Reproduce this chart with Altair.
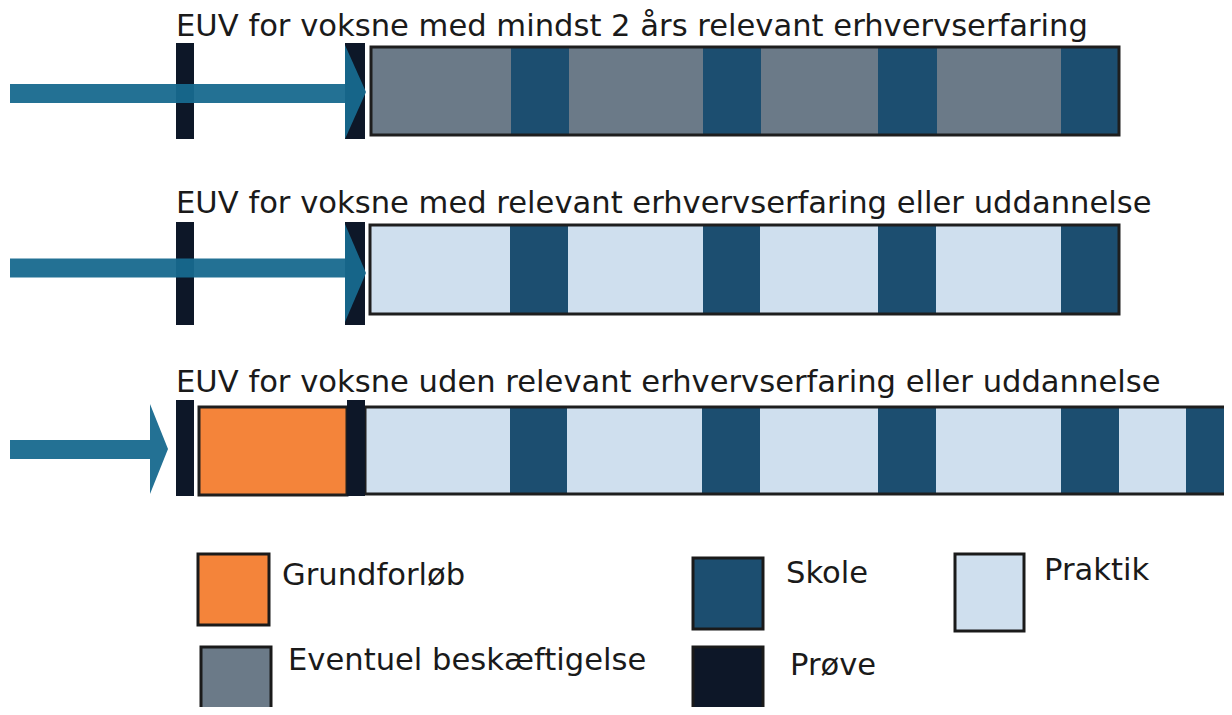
import altair as alt
import pandas as pd

# ---------------- data ----------------
titles = [
    "EUV for voksne med mindst 2 års relevant erhvervserfaring",
    "EUV for voksne med relevant erhvervserfaring eller uddannelse",
    "EUV for voksne uden relevant erhvervserfaring eller uddannelse",
]
phases = ["Grundforløb", "Skole", "Praktik", "Eventuel beskæftigelse", "Prøve"]
phase_colors = ["#f4843a", "#1c4e70", "#cfdfee", "#6b7a88", "#0d1728"]

# main course sequence per row (phase, length)
row_seq_phase = [
    ["Eventuel beskæftigelse", "Skole"] * 4,
    ["Praktik", "Skole"] * 4,
    ["Praktik", "Skole"] * 5,
]
row_seq_len = [
    [140, 58, 134, 58, 117, 59, 124, 58],
    [140, 58, 135, 57, 118, 58, 125, 58],
    [145, 57, 135, 58, 118, 58, 125, 58, 67, 60],
]
row_seq_start = [371, 370, 365]

# prøve markers per row: (start, width)
prove_start = [[176, 345], [176, 345], [176, 347]]
prove_width = [[18, 20], [18, 20], [18, 18]]
# grundforløb (only row 3)
grund_start = [None, None, 199]
grund_len = [0, 0, 148]

# arrows: shaft start, head base, head tip
arrow_start = [10, 10, 10]
arrow_base = [345, 345, 150]
arrow_tip = [366, 366, 168]

legend_labels = ["Grundforløb", "Eventuel beskæftigelse", "Skole", "Prøve", "Praktik"]

# ---------------- layout (page pixels) ----------------
X0, X1 = 8, 1224
Y0, Y1 = 8, 707
bar_top = [47, 225, 407]
bar_bot = [135, 314, 494]
prove_top = [43, 222, 400]
prove_bot = [139, 325, 496]
shaft_c = [93.5, 268, 449.5]
shaft_h = 19
head_top = [45, 224, 404]
head_bot = [139, 322, 494]
title_base = [36, 213, 392]
title_x = 176

leg_x1 = [198, 201, 693, 693, 955]
leg_x2 = [269, 271, 763, 763, 1024]
leg_y1 = [554, 647, 558, 647, 554]
leg_y2 = [625, 716, 629, 716, 631]
leg_tx = [282, 288, 786, 790, 1044]
leg_ty = [585, 670, 583, 675, 580]

FONT = "DejaVu Sans"
FS = 30.6
TXT = "#1a1a1a"
ARROW = "#17698e"

# ---------------- tables ----------------
seg_rows = []
outline_rows = []
for r in range(3):
    x = row_seq_start[r]
    for p, L in zip(row_seq_phase[r], row_seq_len[r]):
        seg_rows.append(dict(row=r, phase=p, x=x, x2=x + L, y=bar_top[r], y2=bar_bot[r]))
        x += L
    outline_rows.append(dict(row=r, x=row_seq_start[r], x2=x, y=bar_top[r], y2=bar_bot[r]))
    if grund_start[r] is not None:
        g = dict(row=r, phase="Grundforløb", x=grund_start[r], x2=grund_start[r] + grund_len[r],
                 y=bar_top[r], y2=bar_bot[r] + 1)
        seg_rows.append(g)
        outline_rows.append(dict(row=r, x=g["x"], x2=g["x2"], y=g["y"], y2=g["y2"]))
segs = pd.DataFrame(seg_rows)
outlines = pd.DataFrame(outline_rows)

prove_rows = []
for r in range(3):
    for s, w in zip(prove_start[r], prove_width[r]):
        prove_rows.append(dict(row=r, phase="Prøve", x=s, x2=s + w, y=prove_top[r], y2=prove_bot[r]))
proves = pd.DataFrame(prove_rows)

shafts = pd.DataFrame([
    dict(row=r, x=arrow_start[r], x2=arrow_base[r],
         y=shaft_c[r] - shaft_h / 2, y2=shaft_c[r] + shaft_h / 2)
    for r in range(3)
])

head_rows = []
for r in range(3):
    h = head_bot[r] - head_top[r]
    L = arrow_tip[r] - arrow_base[r]
    a = L / h
    head_rows.append(dict(
        row=r, x=(arrow_base[r] + arrow_tip[r]) / 2, y=(head_top[r] + head_bot[r]) / 2,
        size=h * h, path=f"M{-a:.4f},-1L{a:.4f},0L{-a:.4f},1Z"))
heads = pd.DataFrame(head_rows)

title_df = pd.DataFrame(dict(text=titles, x=[title_x] * 3, y=title_base))

leg_box = pd.DataFrame(dict(phase=legend_labels, x=leg_x1, x2=leg_x2, y=leg_y1, y2=leg_y2))
leg_txt = pd.DataFrame(dict(text=legend_labels, x=leg_tx, y=leg_ty))

# ---------------- encodings ----------------
xs = alt.Scale(domain=[X0, X1], nice=False, zero=False)
ys = alt.Scale(domain=[Y0, Y1], nice=False, zero=False, reverse=True)
cs = alt.Scale(domain=phases, range=phase_colors)


def X(f="x"):
    return alt.X(f"{f}:Q", scale=xs, axis=None)


def Y(f="y"):
    return alt.Y(f"{f}:Q", scale=ys, axis=None)


color = alt.Color("phase:N", scale=cs, legend=None)

seg_layer = alt.Chart(segs).mark_rect(clip=True).encode(
    x=X(), x2="x2", y=Y(), y2="y2", color=color)

outline_layer = alt.Chart(outlines).mark_rect(
    clip=True, fill="white", fillOpacity=0, stroke="#1e1e1e", strokeWidth=3
).encode(x=X(), x2="x2", y=Y(), y2="y2")

prove_layer = alt.Chart(proves).mark_rect(clip=True).encode(
    x=X(), x2="x2", y=Y(), y2="y2", color=color)

shaft_layer = alt.Chart(shafts).mark_rect(color=ARROW, opacity=0.95).encode(
    x=X(), x2="x2", y=Y(), y2="y2")

head_layer = alt.Chart(heads).mark_point(
    filled=True, color=ARROW, opacity=0.95, strokeWidth=0
).encode(
    x=X(), y=Y(),
    size=alt.Size("size:Q", scale=None, legend=None),
    shape=alt.Shape("path:N", scale=None, legend=None),
)

title_layer = alt.Chart(title_df).mark_text(
    align="left", baseline="alphabetic", font=FONT, fontSize=FS, color=TXT
).encode(x=X(), y=Y(), text="text:N")

leg_box_layer = alt.Chart(leg_box).mark_rect(
    clip=True, stroke="#1a1a1a", strokeWidth=3
).encode(x=X(), x2="x2", y=Y(), y2="y2", color=color)

leg_txt_layer = alt.Chart(leg_txt).mark_text(
    align="left", baseline="alphabetic", font=FONT, fontSize=FS, color=TXT
).encode(x=X(), y=Y(), text="text:N")

chart = alt.layer(
    seg_layer, outline_layer, prove_layer, shaft_layer, head_layer,
    title_layer, leg_box_layer, leg_txt_layer
).properties(
    width=X1 - X0, height=Y1 - Y0, padding=0,
    autosize=alt.AutoSizeParams(type="none"),
    background="white",
).configure_view(stroke=None)

chart.save("out.html", embed_options={"renderer": "svg", "actions": False})
